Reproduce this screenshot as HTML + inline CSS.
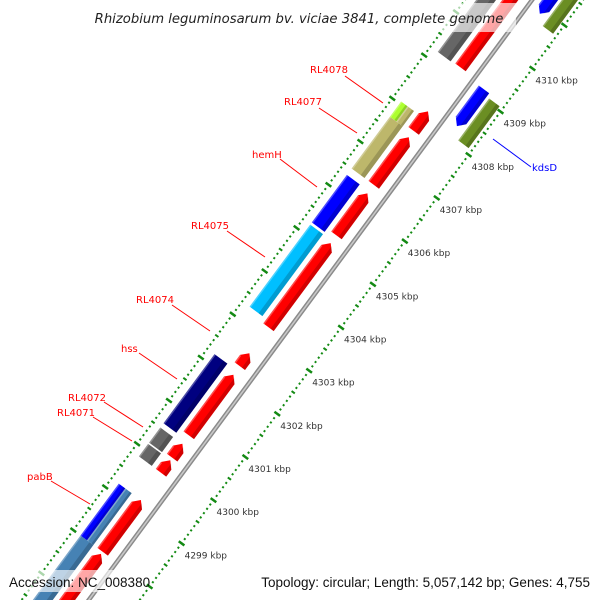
<!DOCTYPE html>
<html><head><meta charset="utf-8"><style>
html,body{margin:0;padding:0;background:#fff;width:600px;height:600px;overflow:hidden;}
svg{display:block;font-family:"Liberation Sans",sans-serif;}
</style></head><body>
<svg id="map" width="600" height="600" viewBox="0 0 600 600" xmlns="http://www.w3.org/2000/svg" overflow="hidden">
<rect width="600" height="600" fill="#fff"/>
<g id="marks"></g>
<g id="labels"></g>
<rect x="84" y="3" width="432" height="29" fill="#fff" fill-opacity="0.65"/>
<text x="299" y="23" text-anchor="middle" font-size="13.2" font-style="italic" fill="#222" font-family="DejaVu Sans, sans-serif">Rhizobium leguminosarum bv. viciae 3841, complete genome</text>
<rect x="4" y="570" width="140" height="22" fill="#fff" fill-opacity="0.65"/>
<text x="9" y="587" font-size="13.5" fill="#111">Accession: NC_008380</text>
<rect x="256" y="570" width="340" height="22" fill="#fff" fill-opacity="0.65"/>
<text x="590" y="587" text-anchor="end" font-size="13.5" fill="#111">Topology: circular; Length: 5,057,142 bp; Genes: 4,755</text>
</svg>
<script>
// ---- data ----
const featStart = [4296.0,4298.0,4298.0,4299.83,4300.15,4300.6,4303.3,4305.25,4306.5,4307.7,4307.7,4309.2,
  4296.0,4298.0,4299.83,4300.18,4300.7,4302.3,4303.2,4305.33,4306.5,4307.75,4309.22,
  4308.3,4308.1,4310.9,4310.75];
const featEnd = [4298.0,4299.2,4299.2,4300.12,4300.5,4302.2,4305.2,4306.35,4307.7,4308.05,4308.05,4311.6,
  4297.95,4299.2,4300.12,4300.5,4302.1,4302.6,4305.15,4306.3,4307.6,4308.2,4311.6,
  4309.15,4309.07,4312.0,4312.0];
const featLane = ['outer','outerB','outerA','outer','outer','outer','outer','outer','outer','outerB','outerA','outer',
  'inner','inner','inner','inner','inner','inner','inner','inner','inner','inner','inner',
  'fwdA','fwdB','fwdA','fwdB'];
const featColor = ['#4682b4','#4682b4','#0000ff','#666666','#666666','#000080','#00bfff','#0000ff','#bdb76b','#bdb76b','#adff2f','#666666',
  '#ff0000','#ff0000','#ff0000','#ff0000','#ff0000','#ff0000','#ff0000','#ff0000','#ff0000','#ff0000','#ff0000',
  '#0000ff','#6b8e23','#0000ff','#6b8e23'];
const featDir = [0,0,0,0,0,0,0,0,0,0,0,0, 1,1,1,1,1,1,1,1,1,1,1, -1,0,-1,0];
const tickKbp = [4299,4300,4301,4302,4303,4304,4305,4306,4307,4308,4309,4310];
const tickLabels = ['4299 kbp','4300 kbp','4301 kbp','4302 kbp','4303 kbp','4304 kbp','4305 kbp','4306 kbp','4307 kbp','4308 kbp','4309 kbp','4310 kbp'];
const geneLabels = ['RL4078','RL4077','hemH','RL4075','RL4074','hss','RL4072','RL4071','pabB','kdsD'];

// ---- axis functions ----
const UX=0.594, UY=-0.804, VX=0.804, VY=0.594;
function S(k){ return 100 + (k-4299)*53.7; }
function P(k,t){ const s=S(k); return [90+UX*s+VX*t, 600+UY*s+VY*t]; }
function Ps(s,t){ return [90+UX*s+VX*t, 600+UY*s+VY*t]; }
const lanes = {outer:[-46,-30],outerA:[-46,-38],outerB:[-38,-30],inner:[-25,-12],fwdA:[7,20],fwdB:[23,36]};
const NS='http://www.w3.org/2000/svg';
const marks=document.getElementById('marks');
function poly(pts,fill,extra){ const p=document.createElementNS(NS,'polygon');
  p.setAttribute('points',pts.map(q=>q[0].toFixed(1)+','+q[1].toFixed(1)).join(' '));
  p.setAttribute('fill',fill); if(extra) for(const k in extra) p.setAttribute(k,extra[k]); return p; }

// rulers
function ruler(t,name,withLabels){
  const g=document.createElementNS(NS,'g');
  
  
  for(let i=0;i<=220;i++){
    const k=4293+i*0.1; const r=Math.round(k*10)%10;
    const len = r===0?7:(r===5?4:2);
    const a=P(k,t-len/2), b=P(k,t+len/2);
    if(a[1]<-10||a[1]>610) continue;
    const l=document.createElementNS(NS,'line');
    l.setAttribute('x1',a[0]);l.setAttribute('y1',a[1]);l.setAttribute('x2',b[0]);l.setAttribute('y2',b[1]);
    l.setAttribute('stroke','#138a13');l.setAttribute('stroke-width', r===0?2.5:2);
    
    
    g.appendChild(l);
  }
  if(withLabels){
    tickKbp.forEach((k,i)=>{
      const p=P(k,t);
      const tx=document.createElementNS(NS,'text');
      tx.setAttribute('x',(p[0]+3).toFixed(1));tx.setAttribute('y',(p[1]+15).toFixed(1));
      tx.setAttribute('font-size','9');tx.setAttribute('fill','#333');
      tx.setAttribute('font-family','DejaVu Sans, sans-serif');
      tx.textContent=tickLabels[i];
      
      
      g.appendChild(tx);
    });
  }
  marks.appendChild(g);
}
ruler(40,'kbp-ruler',true);
ruler(-55,'inner-ruler',false);

// backbone
(function(){
  const a=Ps(-60,-1), b=Ps(900,-1);
  [['#8a8a8a',4.5],['#c8c8c8',1.6]].forEach(([c,w])=>{
    const l=document.createElementNS(NS,'line');
    l.setAttribute('x1',a[0]);l.setAttribute('y1',a[1]);l.setAttribute('x2',b[0]);l.setAttribute('y2',b[1]);
    l.setAttribute('stroke',c);l.setAttribute('stroke-width',w);
    
    
    marks.appendChild(l);
  });
})();

// features
featStart.forEach((st,i)=>{
  const en=featEnd[i]; const [t0,t1]=lanes[featLane[i]]; const d=featDir[i];
  const s0=S(st), s1=S(en), h=7, tm=(t0+t1)/2;
  let pts;
  if(d===1) pts=[Ps(s0,t0),Ps(s1-h,t0),Ps(s1,tm),Ps(s1-h,t1),Ps(s0,t1)];
  else if(d===-1) pts=[Ps(s0+h,t0),Ps(s1,t0),Ps(s1,t1),Ps(s0+h,t1),Ps(s0,tm)];
  else pts=[Ps(s0,t0),Ps(s1,t0),Ps(s1,t1),Ps(s0,t1)];
  const g=document.createElementNS(NS,'g');
  
  
  g.appendChild(poly(pts,featColor[i]));
  const ts=t1-(t1-t0)*0.3;
  let sh;
  if(d===1) sh=[Ps(s0,ts),Ps(s1-h*0.3,ts),Ps(s1-h,t1),Ps(s0,t1)];
  else if(d===-1) sh=[Ps(s0+h*0.3,ts),Ps(s1,ts),Ps(s1,t1),Ps(s0+h,t1)];
  else sh=[Ps(s0,ts),Ps(s1,ts),Ps(s1,t1),Ps(s0,t1)];
  g.appendChild(poly(sh,'#000',{'fill-opacity':'0.18'}));
  const hl=[Ps(s0,t0),Ps(s1-(d===1?h:0),t0),Ps(s1-(d===1?h:0),t0+1.5),Ps(s0,t0+1.5)];
  g.appendChild(poly(hl,'#fff',{'fill-opacity':'0.3'}));
  marks.appendChild(g);
});

// gene labels with leader lines
const labelPos=[[310,73,345,76,383,103,'#ff0000'],[284,105,319,108,357,133,'#ff0000'],[252,158,280,159,317,187,'#ff0000'],
 [191,229,227,231,265,257,'#ff0000'],[136,303,172,305,210,331,'#ff0000'],[121,352,139,353,177,379,'#ff0000'],
 [68,401,104,402,143,427,'#ff0000'],[57,416,93,417,132,441,'#ff0000'],[27,480,51,481,90,504,'#ff0000'],[532,171,531,167,493,139,'#0000ff']];
const lg=document.getElementById('labels');
geneLabels.forEach((name,i)=>{
  const [x,y,x1,y1,x2,y2,c]=labelPos[i];
  const l=document.createElementNS(NS,'line');
  l.setAttribute('x1',x1);l.setAttribute('y1',y1);l.setAttribute('x2',x2);l.setAttribute('y2',y2);
  l.setAttribute('stroke',c);l.setAttribute('stroke-width','1');
  
  
  lg.appendChild(l);
  const t=document.createElementNS(NS,'text');
  t.setAttribute('x',x);t.setAttribute('y',y);t.setAttribute('font-size','10');t.setAttribute('fill',c);
  t.setAttribute('font-family','DejaVu Sans, sans-serif');
  t.textContent=name;
  
  
  lg.appendChild(t);
});
</script>
</body></html>
